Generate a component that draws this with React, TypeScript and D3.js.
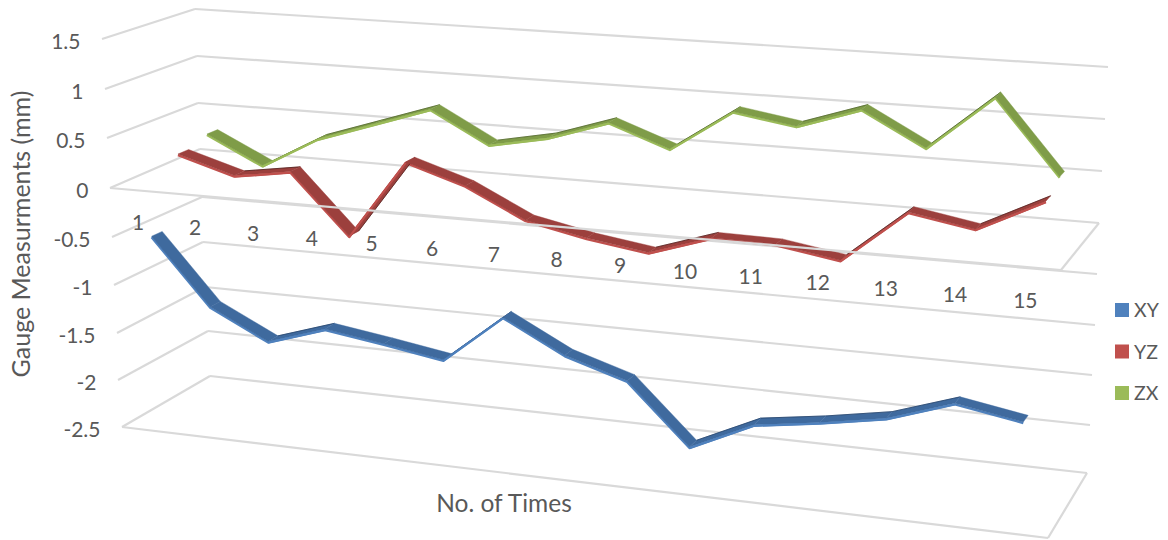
import React from "react";
import * as d3 from "d3";

// Gauge readings per measurement run, in millimetres
const categories = ["1","2","3","4","5","6","7","8","9","10","11","12","13","14","15"];
const seriesXY = [-0.52,-1.20,-1.50,-1.31,-1.40,-1.50,-1.01,-1.33,-1.52,-2.11,-1.82,-1.73,-1.62,-1.41,-1.52];
const seriesYZ = [0.19,0.015,0.105,-0.50,0.30,0.11,-0.185,-0.31,-0.40,-0.20,-0.21,-0.31,0.21,0.10,0.42];
const seriesZX = [0.27,-0.016,0.31,0.51,0.71,0.39,0.51,0.71,0.49,0.91,0.81,1.02,0.69,1.23,0.51];
const valueTicks = [1.5,1,0.5,0,-0.5,-1,-1.5,-2,-2.5];
const tickLabels = ["1.5","1","0.5","0","-0.5","-1","-1.5","-2","-2.5"];
const seriesNames = ["XY","YZ","ZX"];
const seriesColors = ["#4f81bd","#c0504d","#9bbb59"];
const seriesDark = ["#3f6a9e","#9c403d","#7f9c48"];
const seriesEdge = ["#24426a","#4f1f1d","#50642c"];

const FONT = "Lato, 'Open Sans', sans-serif";
const GRID = "#d9d9d9";
const TEXT = "#595959";

// Corners of the chart box on screen, one scale per vertical edge of the box
const frontLeftX = d3.scaleLinear().domain(valueTicks).range([102,105,107,110,112,114,117,118,122]);
const frontLeftY = d3.scaleLinear().domain(valueTicks).range([39,89,138,188,237,285,333,380,427]);
const backLeftX = d3.scaleLinear().domain(valueTicks).range([195,197,198,200,202,203,205,208,210]);
const backLeftY = d3.scaleLinear().domain(valueTicks).range([9,56,103,149,197,242,287,331,376]);
const backRightX = d3.scaleLinear().domain(valueTicks).range([1108,1105,1102,1099,1097,1095,1092,1090,1087]);
const backRightY = d3.scaleLinear().domain(valueTicks).range([67,119,171,223,274,325,375,425,473]);
const frontRightX = d3.scaleLinear().domain([0,-2.5]).range([1061,1048]);
const frontRightY = d3.scaleLinear().domain([0,-2.5]).range([270,538]);

// Position of each run along the category axis, with foreshortening toward the left
const category = d3.scalePoint<string>().domain(categories).range([0,1]).padding(0.5);
const NEAR_RATIO = 0.885;
const foreshorten = (t: number) => (NEAR_RATIO * t) / (NEAR_RATIO * t + 1 - t);

type Pt = [number, number];

// Projects (position along the axis, value, depth) onto the screen
function project(t: number, v: number, d: number): Pt {
  const s = foreshorten(t);
  const fx = frontLeftX(v) + s * (frontRightX(v) - frontLeftX(v));
  const fy = frontLeftY(v) + s * (frontRightY(v) - frontLeftY(v));
  const bx = backLeftX(v) + s * (backRightX(v) - backLeftX(v));
  const by = backLeftY(v) + s * (backRightY(v) - backLeftY(v));
  return [fx + d * (bx - fx), fy + d * (by - fy)];
}

const path = d3.line<Pt>();
const seriesDepth = [0.19, 0.52, 0.85];
const HALF_WIDTH = 0.06;

function Ribbon({ values, index }: { values: number[]; index: number }) {
  const d = seriesDepth[index];
  const ts = categories.map((c) => category(c) as number);
  const frontEdge = values.map((v, i) => project(ts[i], v, d - HALF_WIDTH));
  const backEdge = values.map((v, i) => project(ts[i], v, d + HALF_WIDTH));
  const lowered = frontEdge.map(([x, y]) => [x, y + 1] as Pt);
  return (
    <g>
      <path d={path(lowered) as string} fill="none" stroke={seriesColors[index]} strokeWidth={2.4} strokeLinejoin="round" />
      {values.slice(1).map((_, i) => {
        const quad: Pt[] = [frontEdge[i], frontEdge[i + 1], backEdge[i + 1], backEdge[i]];
        const rising = backEdge[i + 1][1] < backEdge[i][1];
        return (
          <g key={i}>
            <path d={`${path(quad)}Z`} fill={seriesDark[index]} stroke={seriesDark[index]} strokeWidth={0.4} />
            {rising && (
              <>
                <path d={path([backEdge[i], backEdge[i + 1]]) as string} stroke={seriesEdge[index]} strokeWidth={0.8} fill="none" />
                {/* Rising stretches show the lit underside of the ribbon */}
                <path d={path([lowered[i], lowered[i + 1]]) as string} stroke={seriesColors[index]} strokeWidth={2} fill="none" />
              </>
            )}
          </g>
        );
      })}
    </g>
  );
}

export default function App() {
  const gridLine = (a: Pt, b: Pt, key: string) => (
    <path key={key} d={path([a, b]) as string} stroke={GRID} strokeWidth={2.2} fill="none" />
  );
  const labelT = categories.map((c) => category(c) as number);

  return (
    <svg width={1168} height={540} style={{ position: "absolute", left: 0, top: 0, background: "#fff" }} fontFamily={FONT}>
      {/* Back wall and side wall grid */}
      {valueTicks.map((v) => (
        <g key={v}>
          {gridLine(project(0, v, 1), project(1, v, 1), `b${v}`)}
          {gridLine(project(0, v, 0), project(0, v, 1), `s${v}`)}
        </g>
      ))}
      {/* Floor edges */}
      {gridLine(project(0, -2.5, 0), project(1, -2.5, 0), "floorFront")}
      {gridLine(project(1, -2.5, 0), project(1, -2.5, 1), "floorSide")}
      {/* Zero plane edge on the right */}
      {gridLine(project(1, 0, 0), project(1, 0, 1), "zeroSide")}

      <Ribbon values={seriesZX} index={2} />
      <Ribbon values={seriesYZ} index={1} />
      {/* Category axis runs in front of the two rear series */}
      {gridLine(project(0, 0, 0), project(1, 0, 0), "zeroFront")}
      <Ribbon values={seriesXY} index={0} />

      {/* Value axis labels */}
      {valueTicks.map((v, i) => (
        <text key={v} x={frontLeftX(v) - 21.5} y={frontLeftY(v) + 9.5} textAnchor="end" fontSize={21} fill={TEXT}>
          {tickLabels[i]}
        </text>
      ))}
      {/* Category labels */}
      {categories.map((c, i) => {
        const [x, y] = project(labelT[i], 0, 0);
        return (
          <text key={c} x={x} y={y + 40 + labelT[i] * 1.5} textAnchor="middle" fontSize={21} fill={TEXT}>
            {c}
          </text>
        );
      })}
      <text x={504} y={512} textAnchor="middle" fontSize={24.5} fill={TEXT}>No. of Times</text>
      <text transform="translate(30,234) rotate(-90)" textAnchor="middle" fontSize={25} fill={TEXT}>Gauge Measurments (mm)</text>

      {/* Legend */}
      {seriesNames.map((name, i) => {
        const y = 303 + i * 41.5;
        return (
          <g key={name}>
            <rect x={1115} y={y} width={14} height={14} fill={seriesColors[i]} />
            <text x={1134} y={y + 14} fontSize={19.5} fill={TEXT}>{name}</text>
          </g>
        );
      })}
    </svg>
  );
}
